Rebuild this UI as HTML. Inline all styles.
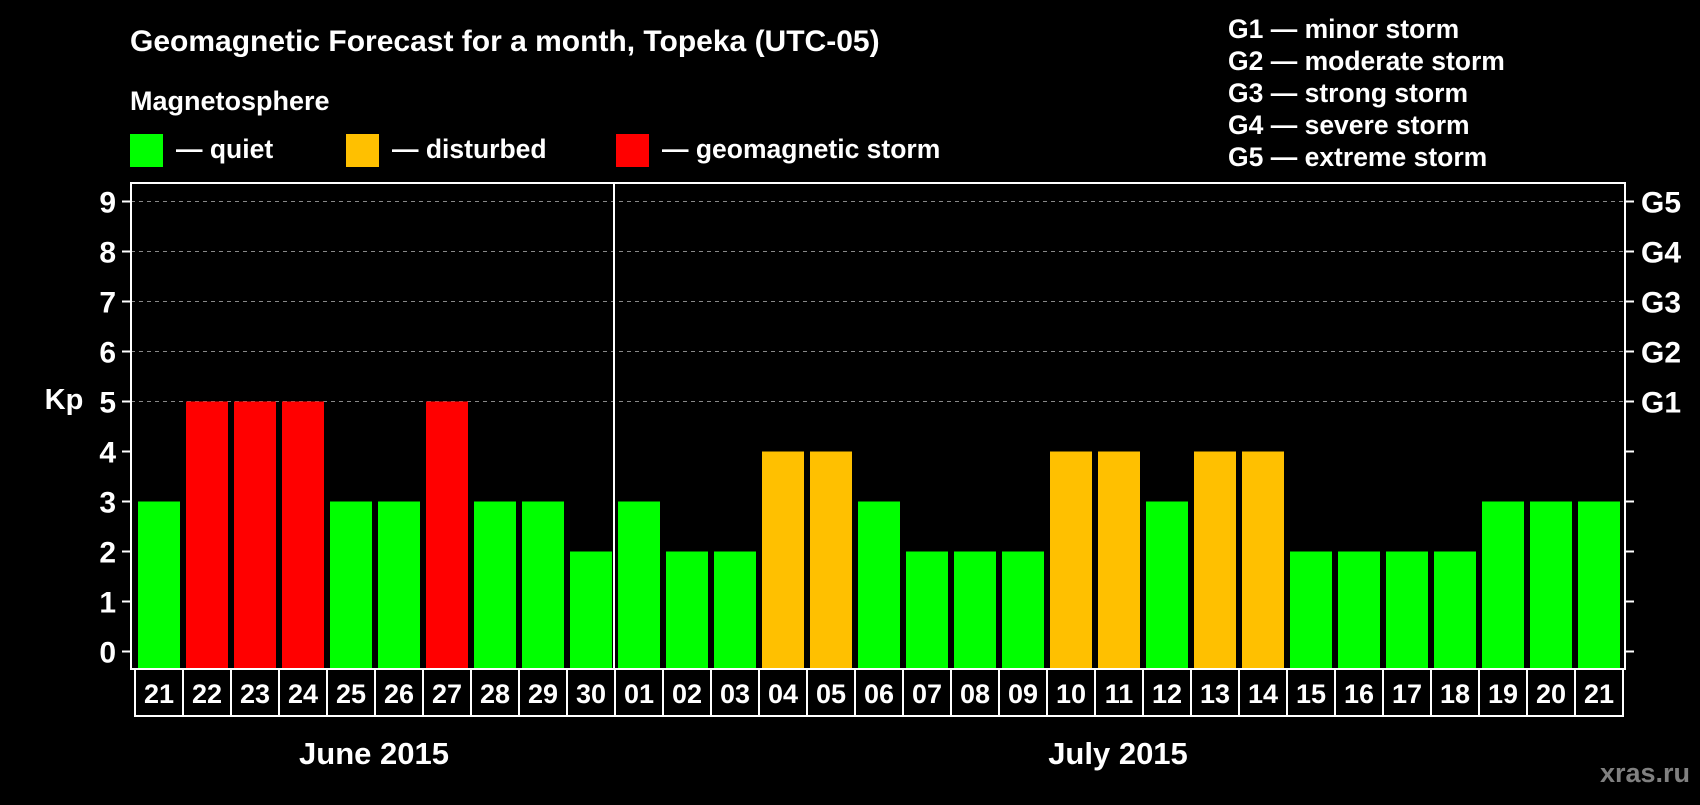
<!DOCTYPE html>
<html><head><meta charset="utf-8"><style>
body{margin:0;background:#000;width:1700px;height:800px;overflow:hidden}
svg text{font-family:"Liberation Sans",Arial,sans-serif;font-weight:bold;fill:#fff}
</style></head><body>
<svg id="chart" width="1700" height="800" xmlns="http://www.w3.org/2000/svg">
<rect width="1700" height="800" fill="#000"/>
<text x="130" y="51" font-size="30">Geomagnetic Forecast for a month, Topeka (UTC-05)</text>
<text x="130" y="110" font-size="27">Magnetosphere</text>
<rect x="130" y="134" width="33" height="33" fill="#00ff00"/>
<text x="176" y="158" font-size="26.5">— quiet</text>
<rect x="346" y="134" width="33" height="33" fill="#ffc000"/>
<text x="392" y="158" font-size="26.5">— disturbed</text>
<rect x="616" y="134" width="33" height="33" fill="#ff0000"/>
<text x="662" y="158" font-size="26.5">— geomagnetic storm</text>
<g font-size="26.5">
<text x="1228" y="38">G1 — minor storm</text>
<text x="1228" y="70">G2 — moderate storm</text>
<text x="1228" y="102">G3 — strong storm</text>
<text x="1228" y="134">G4 — severe storm</text>
<text x="1228" y="166">G5 — extreme storm</text>
</g>
<text x="64" y="409" font-size="29" text-anchor="middle">Kp</text>
<g id="plot"></g>
<text x="374" y="764" font-size="31" text-anchor="middle">June 2015</text>
<text x="1118" y="764" font-size="31" text-anchor="middle">July 2015</text>
<text x="1690" y="782" font-size="27" text-anchor="end" style="fill:#808080">xras.ru</text>
</svg>
<script>
const days=["21","22","23","24","25","26","27","28","29","30","01","02","03","04","05","06","07","08","09","10","11","12","13","14","15","16","17","18","19","20","21"];
const kp=[3,5,5,5,3,3,5,3,3,2,3,2,2,4,4,3,2,2,2,4,4,3,4,4,2,2,2,2,3,3,3];
const yTicks=[0,1,2,3,4,5,6,7,8,9];
const gLabels=["G1","G2","G3","G4","G5"];
const NS="http://www.w3.org/2000/svg";
const g=document.getElementById('plot');
const L=131,R=1625,T=183,B=669,slot0=134,pitch=48;
const y=v=>651.5-v*50;
const x=i=>slot0+i*pitch;
function mk(t,a){const e=document.createElementNS(NS,t);for(const k in a)e.setAttribute(k,a[k]);g.appendChild(e);return e;}
yTicks.forEach(v=>{
  if(v>=5){const l=mk('line',{x1:L,x2:R,y1:y(v),y2:y(v),stroke:'#888','stroke-dasharray':'4,4','stroke-width':1});
  
  }
  const t1=mk('line',{x1:122,x2:L,y1:y(v),y2:y(v),stroke:'#fff','stroke-width':2});
  
  
  const t2=mk('line',{x1:R,x2:1634,y1:y(v),y2:y(v),stroke:'#fff','stroke-width':2});
  
  
  const tl=mk('text',{x:116,y:y(v)+11,'font-size':30,'text-anchor':'end'});tl.textContent=v;
  
  
});
gLabels.forEach((s,i)=>{const t=mk('text',{x:1641,y:y(5+i)+11,'font-size':30});t.textContent=s;
  
  });
kp.forEach((v,i)=>{
  const c=v>=5?'#ff0000':v===4?'#ffc000':'#00ff00';
  const r=mk('rect',{x:x(i)+4,y:y(v),width:42,height:B-y(v),fill:c});
  
  
  const b=mk('rect',{x:x(i)+1,y:B,width:pitch,height:47,fill:'none',stroke:'#fff','stroke-width':2});
  
  
  const t=mk('text',{x:x(i)+25,y:B+34,'font-size':27,'text-anchor':'middle'});t.textContent=days[i];
  
  
});
const f=mk('rect',{x:L,y:T,width:R-L,height:B-T,fill:'none',stroke:'#fff','stroke-width':2});


const d=mk('line',{x1:x(10),x2:x(10),y1:T,y2:B,stroke:'#fff','stroke-width':2});


</script>
</body></html>
